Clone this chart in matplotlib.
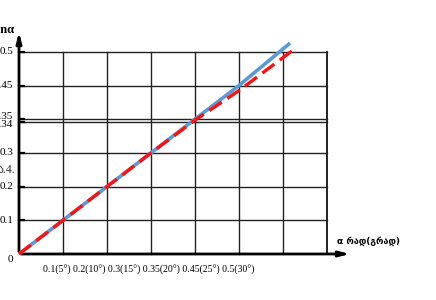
import numpy as np
import matplotlib.pyplot as plt

# y tick values and where they sit on the (broken) axis
y_vals = [0, 0.1, 0.2, 0.3, 0.34, 0.35, 0.45, 0.5]
y_pos = [0, 1, 2, 3, 3.92, 4, 5, 6]
x_labels = ["0.1(5°)", "0.2(10°)", "0.3(15°)", "0.35(20°)", "0.45(25°)", "0.5(30°)"]

# the two curves, in grid units
blue_x = [0, 3, 4, 5, 6.16]
blue_y = [0, 3, 4, 5, 6.26]
red_x = [0, 3, 4, 5, 6.32]
red_y = [0, 3, 3.97, 4.85, 6.14]

serif = ['Liberation Serif', 'DejaVu Sans']

fig = plt.figure(figsize=(4.36, 3.0), dpi=100)
ax = fig.add_axes([0, 0, 1, 1])
ax.axis('off')
ux, uy = 44.0, 33.7
ax.set_xlim(-19 / ux, (436 - 19) / ux)
ax.set_ylim(-46 / uy, 254 / uy)

# grid
for k in range(1, 8):
    ax.plot([k, k], [0, 6], color='#222222', lw=1.0 if k < 7 else 1.4, zorder=1)
for p in y_pos[1:]:
    ax.plot([0, 7], [p, p], color='#222222', lw=1.0, zorder=1)
    ax.plot([0, 0.12], [p, p], color='black', lw=1.6, zorder=2)

# axes with arrows
ax.annotate('', xy=(0, 225 / uy), xytext=(0, -0.02),
            arrowprops=dict(arrowstyle='-|>,head_length=0.6,head_width=0.15', color='black', lw=2))
ax.annotate('', xy=(334 / ux, 0), xytext=(-0.02, 0),
            arrowprops=dict(arrowstyle='-|>,head_length=0.6,head_width=0.15', color='black', lw=2))

ax.plot(blue_x, blue_y, color='#5b9bd5', lw=2.6, solid_capstyle='butt', zorder=3)
ax.plot(red_x, red_y, color='#ff1010', lw=2.4, dashes=(4.5, 2), zorder=4)

# y labels
offs = {0.34: -3, 0.35: 3, 0: -5}
for v, p in zip(y_vals, y_pos):
    ax.text(-6 / ux, p + offs.get(v, 0) / uy, str(v), ha='right', va='center',
            fontsize=8, family=serif)
ax.text(-4 / ux, 84 / uy, 'ა.4.', ha='right', va='center', fontsize=8.5, family=serif, color='#333333')
ax.text(-4 / ux, 224 / uy, 'sinα', ha='right', va='center', fontsize=9, family=serif, weight='bold')

# x labels
ax.text(24 / ux, -16 / uy, ' '.join(x_labels), ha='left', va='center', fontsize=7.1, family=serif)
ax.text(318 / ux, 13 / uy, 'α რად(გრად)', ha='left', va='center', fontsize=6.5, family=['DejaVu Sans'],
        weight='bold')

fig.savefig('out.png', dpi=100)
